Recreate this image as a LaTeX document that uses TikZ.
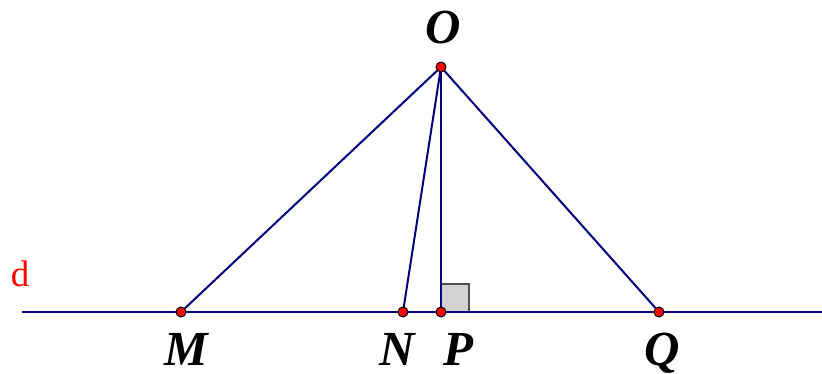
\documentclass[tikz,border=0pt]{standalone}
\usepackage{fontspec}
\setmainfont{Liberation Serif}
\begin{document}
\begin{tikzpicture}[x=1pt,y=-1pt,
  seg/.style={draw={rgb,255:red,0;green,0;blue,128}, line width=2pt},
  pt/.style={circle, fill=red, draw=black, line width=1pt, inner sep=0pt, minimum size=10pt},
  lab/.style={font=\fontsize{49}{49}\selectfont\bfseries\itshape, inner sep=0pt, anchor=base},
]
\useasboundingbox (0,0) rectangle (822,374);
\coordinate (L) at (22,312);
\coordinate (R) at (822,312);
\coordinate (o) at (441,67);
\coordinate (m) at (181,312);
\coordinate (n) at (403,312);
\coordinate (p) at (441,312);
\coordinate (q) at (659,312);
\filldraw[fill={rgb,255:red,210;green,210;blue,210}, draw={rgb,255:red,80;green,80;blue,80}, line width=1.5pt] (441,312) -- (441,284) -- (469,284) -- (469,312);
\draw[seg] (L) -- (R);
\draw[seg] (o) -- (m);
\draw[seg] (o) -- (n);
\draw[seg] (o) -- (p);
\draw[seg] (o) -- (q);
\node[pt] (O) at (o) {};
\node[pt] (M) at (m) {};
\node[pt] (N) at (n) {};
\node[pt] (P) at (p) {};
\node[pt] (Q) at (q) {};
\node[lab] (tO) at (443,44) {O};
\node[lab] (tM) at (186,365) {M};
\node[lab] (tN) at (397,365) {N};
\node[lab] (tP) at (458,365) {P};
\node[lab] (tQ) at (662,365) {Q};
\node[font=\fontsize{37}{37}\selectfont, text=red, inner sep=0pt, anchor=base] (td) at (20,287) {d};
\end{tikzpicture}
\end{document}
